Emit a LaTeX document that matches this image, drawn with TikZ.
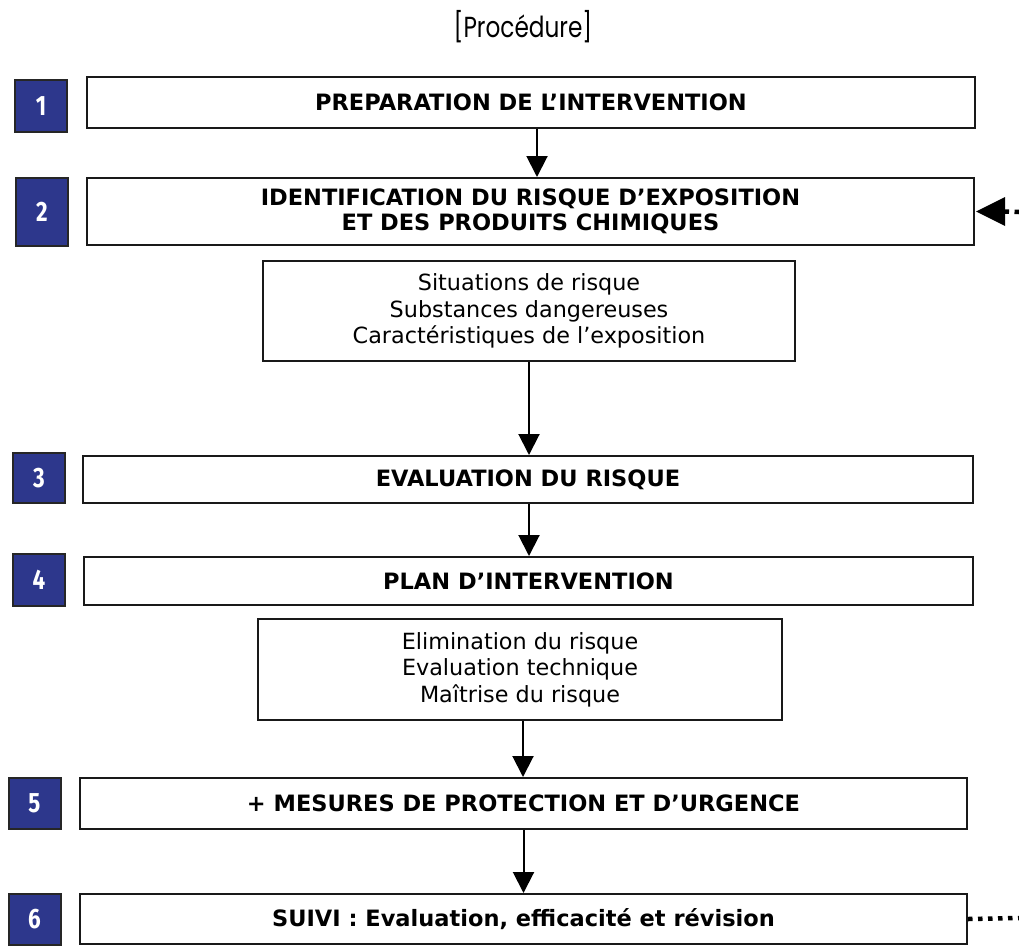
\documentclass[tikz,border=0pt]{standalone}
\usepackage{fontspec}
\setmainfont{DejaVu Sans}
\newfontfamily\titlefont[FakeStretch=0.8]{Poppins}
\newfontfamily\numfont[FakeStretch=0.8]{Fira Sans}
\usetikzlibrary{arrows.meta,calc,positioning}

\definecolor{stepblue}{RGB}{45,55,140}

\tikzset{
  stagebox/.style={draw=black!90, line width=2pt, fill=white, inner sep=0pt,
    align=center, font=\fontsize{22.5}{25}\selectfont\bfseries},
  detailbox/.style={draw=black!90, line width=2pt, fill=white, inner sep=0pt,
    align=center, font=\fontsize{22.3}{26.5}\selectfont},
  numbox/.style={draw=black!85, line width=2pt, fill=stepblue, text=white,
    minimum width=52pt, inner sep=0pt, font=\numfont\bfseries\fontsize{28}{28}\selectfont},
  flow/.style={line width=2pt, -{Triangle[length=21pt,width=21pt]}},
  dotline/.style={line width=4.5pt, dash pattern=on 4.5pt off 5.5pt}
}

\begin{document}
\begin{tikzpicture}[x=1pt,y=-1pt]
  \useasboundingbox (0,0) rectangle (1019,945);

  \node[font=\titlefont\fontsize{29}{29}\selectfont] (title) at (523,27) {[Procédure]};

  % stages
  \node[stagebox, minimum width=888pt, minimum height=51pt] (prep) at (531,102.5) {PREPARATION DE L’INTERVENTION};
  \node[stagebox, minimum width=887pt, minimum height=67pt] (ident) at (530.5,211.5) {IDENTIFICATION DU RISQUE D’EXPOSITION\\ET DES PRODUITS CHIMIQUES};
  \node[detailbox, minimum width=532pt, minimum height=100pt] (situ) at (529,311) {Situations de risque\\Substances dangereuses\\Caractéristiques de l’exposition};
  \node[stagebox, minimum width=890pt, minimum height=47pt] (eval) at (528,479.5) {EVALUATION DU RISQUE};
  \node[stagebox, minimum width=889pt, minimum height=48pt] (plan) at (528.5,581) {PLAN D’INTERVENTION};
  \node[detailbox, minimum width=524pt, minimum height=101pt] (elim) at (520,669.5) {Elimination du risque\\Evaluation technique\\Maîtrise du risque};
  \node[stagebox, minimum width=887pt, minimum height=51pt] (prot) at (523.5,803.5) {+ MESURES DE PROTECTION ET D’URGENCE};
  \node[stagebox, minimum width=887pt, minimum height=50pt] (suivi) at (523.5,919) {SUIVI : Evaluation, efficacité et révision};

  % step numbers
  \node[numbox, minimum height=52pt] (n1) at (41,106) {1};
  \node[numbox, minimum height=68pt] (n2) at (42,212) {2};
  \node[numbox, minimum height=50pt] (n3) at (39,478) {3};
  \node[numbox, minimum height=52pt] (n4) at (39,580) {4};
  \node[numbox, minimum height=51pt] (n5) at (34.5,803.5) {5};
  \node[numbox, minimum height=51pt] (n6) at (34.5,919.5) {6};

  % flow
  \draw[flow] ([xshift=6pt]prep.south) -- ([xshift=6pt]prep.south |- ident.north);
  \draw[flow] (situ.south) -- (situ.south |- eval.north);
  \draw[flow] ([xshift=1pt]eval.south) -- ([xshift=1pt]eval.south |- plan.north);
  \draw[flow] ([xshift=3pt]elim.south) -- ([xshift=3pt]elim.south |- prot.north);
  \draw[flow] (prot.south) -- (prot.south |- suivi.north);

  % loop back
  \coordinate (loopin) at (1019,212);
  \coordinate (loopout) at (1019,918);
  \coordinate (tipbase) at ($(ident.east)+(30,0)$);
  \draw[dotline] (loopin) -- (tipbase);
  \fill ([xshift=1pt]ident.east) -- ($(tipbase)+(0,-14.5)$) -- ($(tipbase)+(0,14.5)$) -- cycle;
  \draw[dotline] (suivi.east) -- (loopout);
\end{tikzpicture}
\end{document}
